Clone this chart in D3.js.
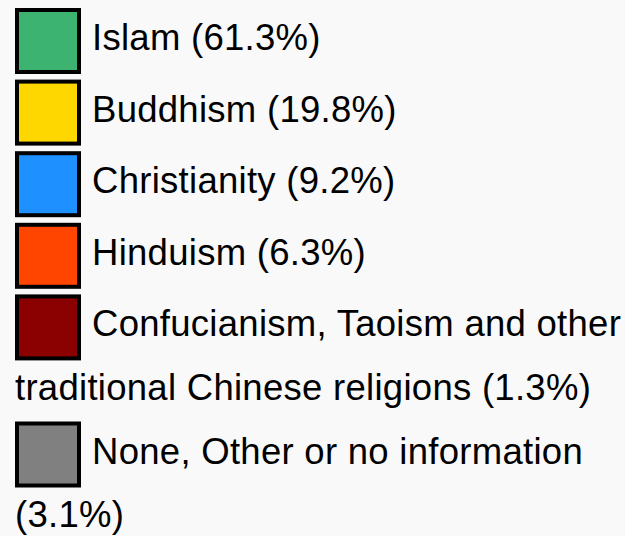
<!DOCTYPE html>
<html>
<head>
<meta charset="utf-8">
<script src="https://cdn.jsdelivr.net/npm/d3@7"></script>
<style>
html,body{margin:0;padding:0;background:#f9f9f9;}
svg{display:block;}
</style>
</head>
<body>
<svg id="chart" width="625" height="536"></svg>
<script>
const religions = ["Islam", "Buddhism", "Christianity", "Hinduism", "Confucianism, Taoism and other traditional Chinese religions", "None, Other or no information"];
const shares = [61.3, 19.8, 9.2, 6.3, 1.3, 3.1];
const colors = ["#3CB371", "#FFD700", "#1E90FF", "#FF4500", "#8B0000", "#808080"];

const W = 625, H = 536;
const svg = d3.select("#chart");
svg.append("rect").attr("width", W).attr("height", H).attr("fill", "#f9f9f9");

const fontSize = 36.5;
const boxX = 15, boxSize = 66, border = 4;
const textX = 92, lineX = 15;
const rowGap = 71.6, lineH = 63.5, baseOff = 42;

const g = svg.append("g").attr("font-family", "'Liberation Sans', Arial, sans-serif")
  .attr("font-size", fontSize).attr("letter-spacing", "0.28px").attr("fill", "#000");

// measuring helper
const meas = g.append("text").attr("visibility", "hidden");
function w(s){ meas.text(s); return meas.node().getComputedTextLength(); }

let y = 8;
religions.forEach((r, i) => {
  const label = `${r} (${shares[i]}%)`;
  const item = g.append("g");
  item.append("rect")
    .attr("x", boxX + border/2).attr("y", y + border/2)
    .attr("width", boxSize - border).attr("height", boxSize - border)
    .attr("fill", colors[i]).attr("stroke", "#000").attr("stroke-width", border);
  // wrap words
  const words = label.split(" ");
  const lines = [];
  let cur = "";
  let maxW = W - textX - 2;
  words.forEach(wd => {
    const test = cur ? cur + " " + wd : wd;
    if (cur && w(test) > maxW) { lines.push(cur); cur = wd; maxW = W - lineX - 2; }
    else cur = test;
  });
  lines.push(cur);
  lines.forEach((ln, k) => {
    item.append("text")
      .attr("x", k === 0 ? textX : lineX)
      .attr("y", y + baseOff + k * lineH)
      .text(ln);
  });
  y += rowGap + (lines.length - 1) * lineH - (lines.length > 1 ? 8 : 0);
});
meas.remove();
</script>
</body>
</html>
